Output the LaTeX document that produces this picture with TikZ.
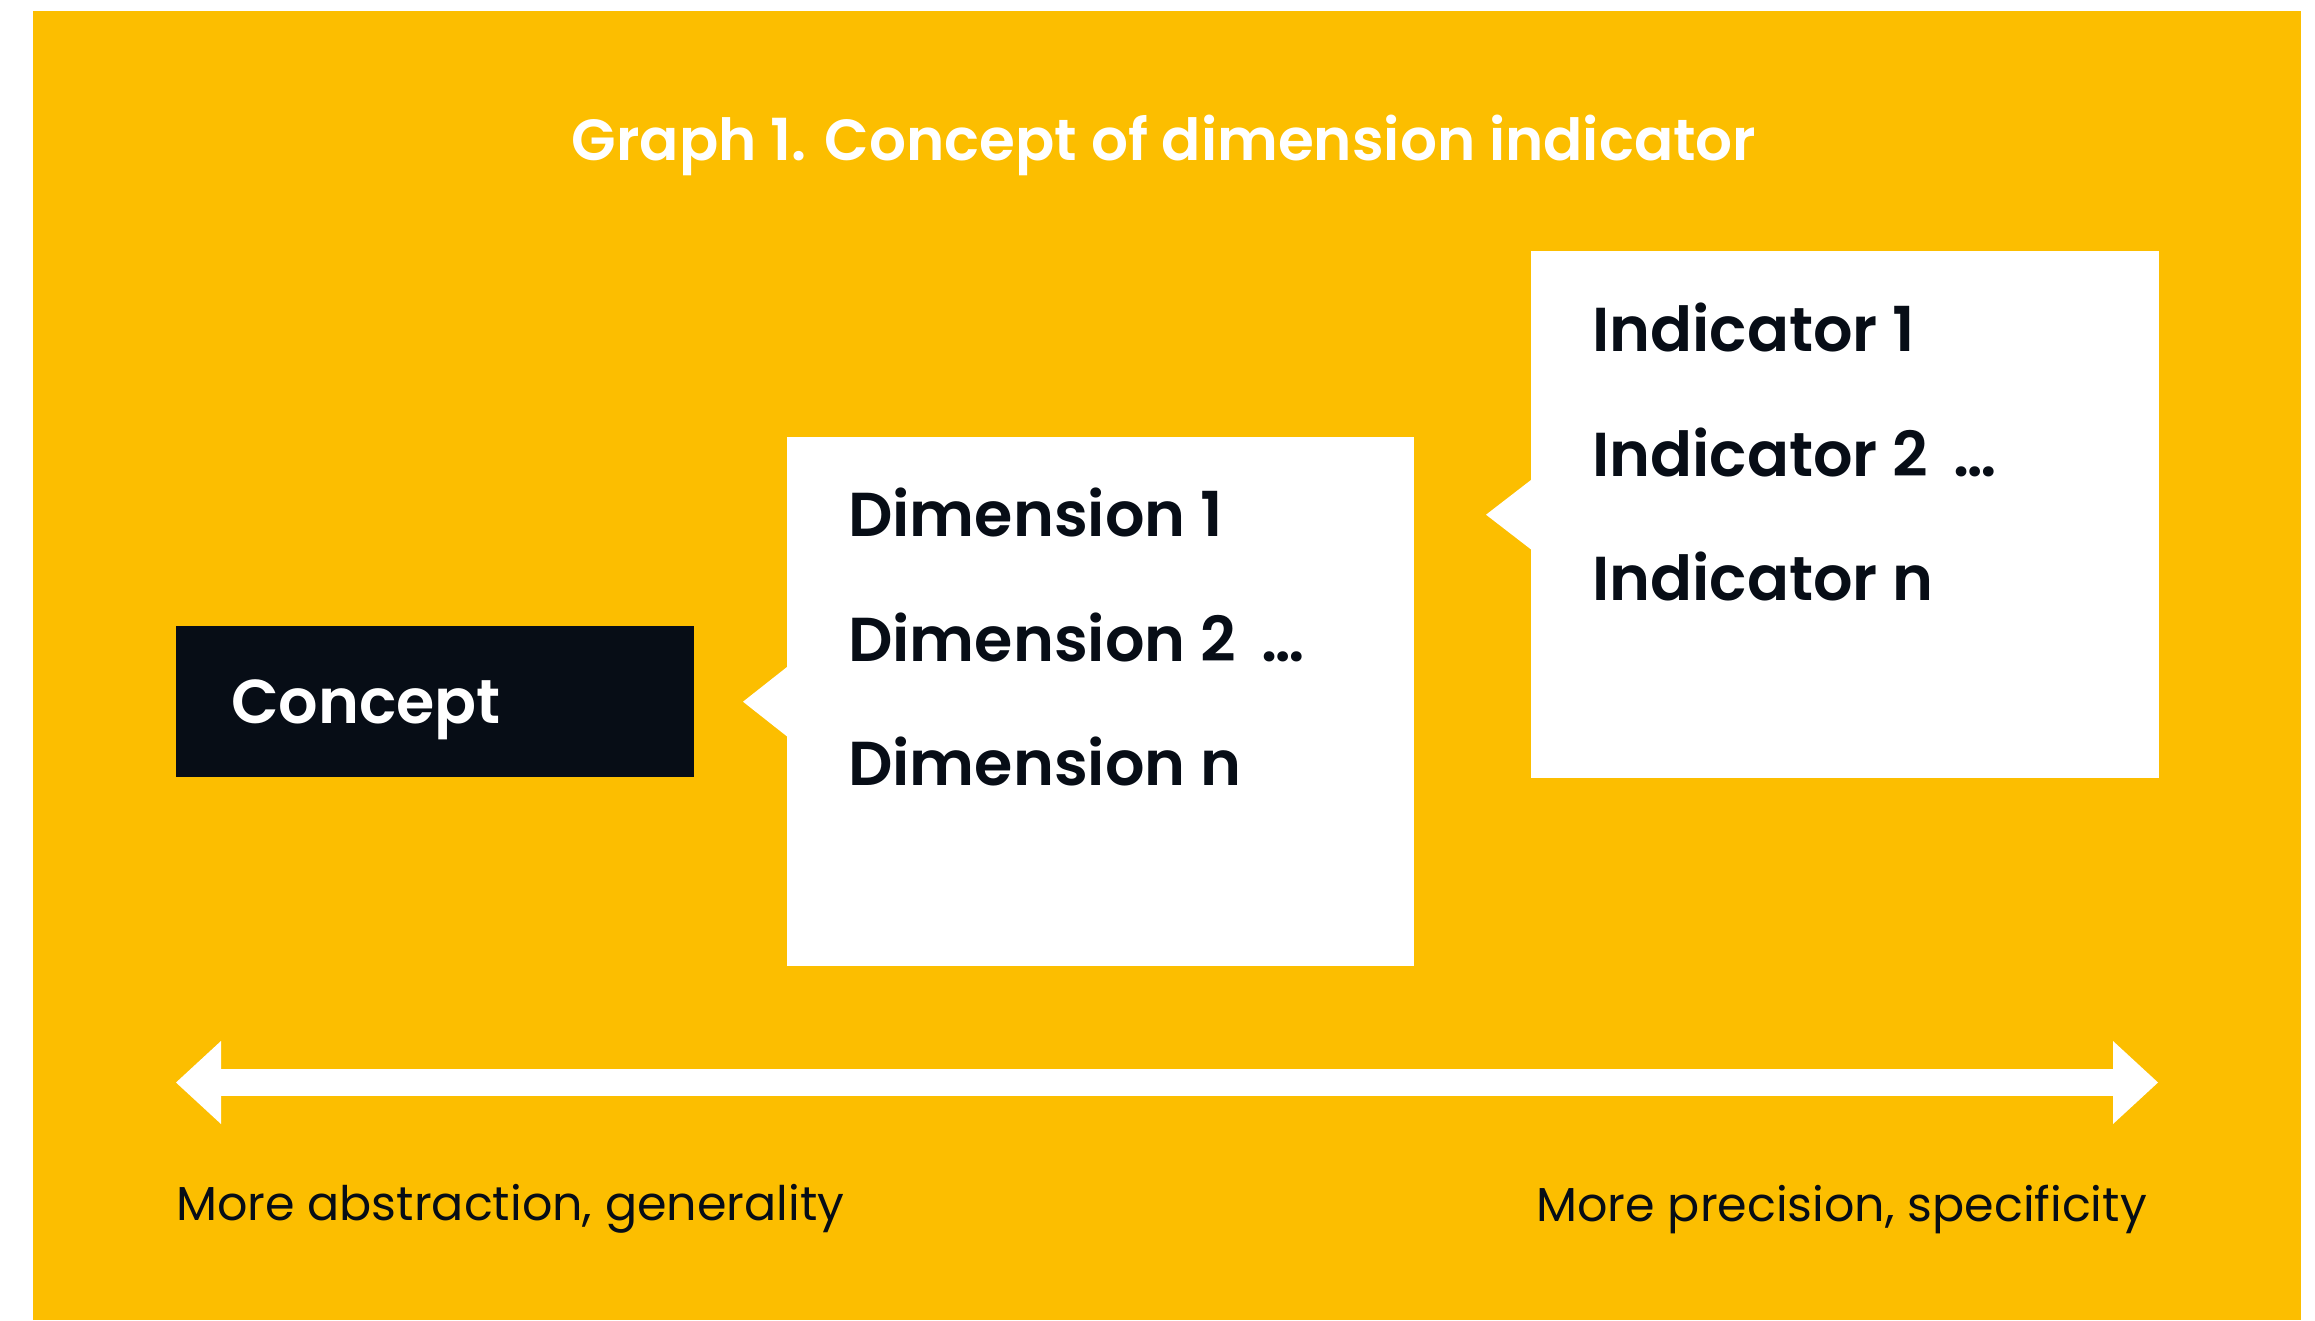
\documentclass[tikz,border=0pt]{standalone}
\usepackage{fontspec}
\setmainfont{Poppins}[BoldFont={Poppins SemiBold}]
\usetikzlibrary{arrows.meta,calc}
\definecolor{brandyellow}{RGB}{252,190,0}
\definecolor{inkdark}{RGB}{7,13,22}

\begin{document}
\begin{tikzpicture}[x=1pt,y=-1pt,
  panel/.style={fill=white, draw=none, inner sep=0pt, anchor=north west},
  item/.style={anchor=base west, inner sep=0pt, text=inkdark,
    font=\fontsize{62}{62}\selectfont\bfseries},
  note/.style={inner sep=0pt, text=inkdark, font=\fontsize{47.6}{48}\selectfont},
  headline/.style={anchor=base, inner sep=0pt, text=white,
    font=\fontsize{58}{58}\selectfont\bfseries},
  scalebar/.style={white, line width=27pt,
    {Triangle[length=45pt,width=83pt,line width=0pt]}-{Triangle[length=45pt,width=83pt,line width=0pt]}}
]
\useasboundingbox (0,0) rectangle (2315,1320);
% background panel
\fill[brandyellow] (33,11) rectangle (2301,1320);

% title
\node[headline] (title) at (1164,160) {Graph 1. Concept of dimension indicator};

% concept box
\node[panel, fill=inkdark, minimum width=518pt, minimum height=151pt] (concept) at (176,626) {};
\node[anchor=base west, inner sep=0pt, text=white,
  font=\fontsize{62}{62}\selectfont\bfseries] (conceptlabel) at (231,723) {Concept};

% dimension callout
\node[panel, minimum width=627pt, minimum height=529pt] (dimbox) at (787,437) {};
\fill[white] ($(dimbox.west)+(1,-35.5)$) -- ($(dimbox.west)+(-44,0)$) -- ($(dimbox.west)+(1,35.5)$) -- cycle;
\node[item] (dim1) at (848,536) {Dimension 1};
\node[item] (dim2) at (848,661) {Dimension 2 \,\dots};
\node[item] (dimn) at (848,785) {Dimension n};

% indicator callout
\node[panel, minimum width=628pt, minimum height=527pt] (indbox) at (1531,251) {};
\fill[white] ($(indbox.west)+(1,-35.5)$) -- ($(indbox.west)+(-45,0)$) -- ($(indbox.west)+(1,35.5)$) -- cycle;
\node[item] (ind1) at (1592,351) {Indicator 1};
\node[item] (ind2) at (1592,476) {Indicator 2 \,\dots};
\node[item] (indn) at (1592,600) {Indicator n};

% abstraction scale
\coordinate (scaleleft) at (176,1082.5);
\coordinate (scaleright) at (2158,1082.5);
\draw[scalebar] (scaleleft) -- (scaleright);
\node[note, anchor=base west] (general) at (176,1220) {More abstraction, generality};
\node[note, anchor=base east] (specific) at (2147,1221) {More precision, specificity};
\end{tikzpicture}
\end{document}
